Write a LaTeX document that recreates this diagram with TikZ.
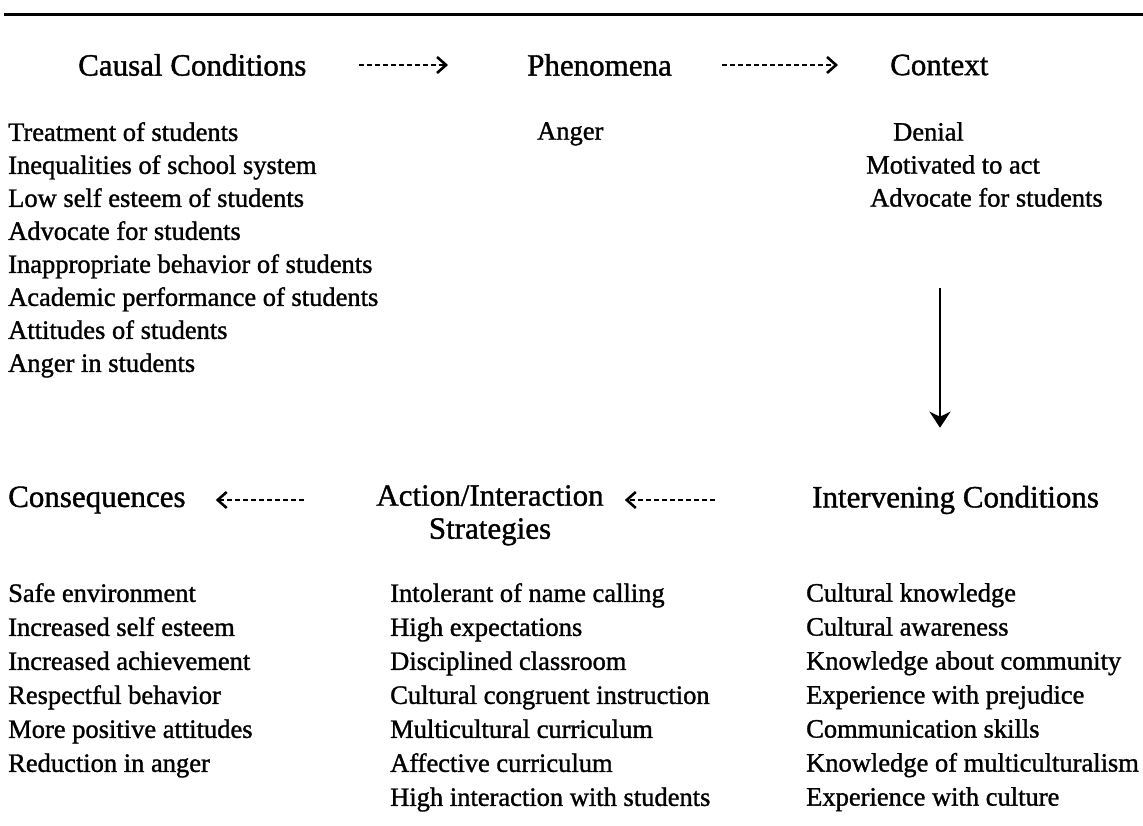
\documentclass[tikz,border=0pt]{standalone}
\usepackage{fontspec}
\setmainfont{Liberation Serif}[RawFeature={embolden=1.2}]
\usetikzlibrary{arrows.meta}

\tikzset{
    head/.style={font=\fontsize{31}{33}\selectfont,inner sep=0pt},
    items/.style={font=\fontsize{26.5}{33}\selectfont,align=left,anchor=north west,inner sep=0pt},
    dasharrow/.style={line width=2.4pt,dash pattern=on 5pt off 3pt,-{Straight Barb[length=9pt,width=16pt,line width=2.6pt]}},
}

\begin{document}
\begin{tikzpicture}[x=1pt,y=-1pt]
    \useasboundingbox (0,0) rectangle (1143,826);
    \draw[line width=3pt] (4,15) -- (1143,15);
    %
    % upper row
    \node[head,anchor=west] (cc) at (78,65) {Causal Conditions};
    \node[head,anchor=west] (ph) at (527,65) {Phenomena};
    \node[head,anchor=west] (cx) at (890,65) {Context};
    \draw[dasharrow,shorten <=52pt,shorten >=79pt] (cc.east) -- (ph.west);
    \draw[dasharrow,shorten <=50pt,shorten >=52pt] (ph.east) -- (cx.west);
    %
    \node[items] (cclist) at (8,122) {Treatment of students\\
        Inequalities of school system\\
        Low self esteem of students\\
        Advocate for students\\
        Inappropriate behavior of students\\
        Academic performance of students\\
        Attitudes of students\\
        Anger in students};
    \node[items] (phlist) at (537,122) {Anger};
    \node[items] (cxlist) at (866,122) {\hspace*{27pt}Denial\\
        Motivated to act\\
        \hspace*{4pt}Advocate for students};
    %
    \coordinate (vtop) at (940,288);
    %
    % lower row
    \node[head,anchor=west] (ic) at (812,500) {Intervening Conditions};
    \node[head,align=center,anchor=north] (ai) at (490,485) {Action/Interaction\\Strategies};
    \node[head,anchor=west] (co) at (8,500) {Consequences};
    \coordinate (aiw) at (ai.west |- co.west);
    \coordinate (aie) at (ai.east |- ic.west);
    \draw[dasharrow,shorten <=97pt,shorten >=21pt] (ic.west) -- (aie);
    \draw[dasharrow,shorten <=72pt,shorten >=30pt] (aiw) -- (co.east);
    %
    \draw[line width=2.6pt,-{Stealth[length=16pt,width=21pt,inset=5pt]},shorten >=58pt] (vtop) -- (vtop |- ic.north);
    %
    \begin{scope}[items/.append style={font=\fontsize{26.5}{34}\selectfont}]
    \node[items] (colist) at (8,583) {Safe environment\\
        Increased self esteem\\
        Increased achievement\\
        Respectful behavior\\
        More positive attitudes\\
        Reduction in anger};
    \node[items] (ailist) at (390,583) {Intolerant of name calling\\
        High expectations\\
        Disciplined classroom\\
        Cultural congruent instruction\\
        Multicultural curriculum\\
        Affective curriculum\\
        High interaction with students};
    \node[items] (iclist) at (806,583) {Cultural knowledge\\
        Cultural awareness\\
        Knowledge about community\\
        Experience with prejudice\\
        Communication skills\\
        Knowledge of multiculturalism\\
        Experience with culture};
    \end{scope}
\end{tikzpicture}
\end{document}
